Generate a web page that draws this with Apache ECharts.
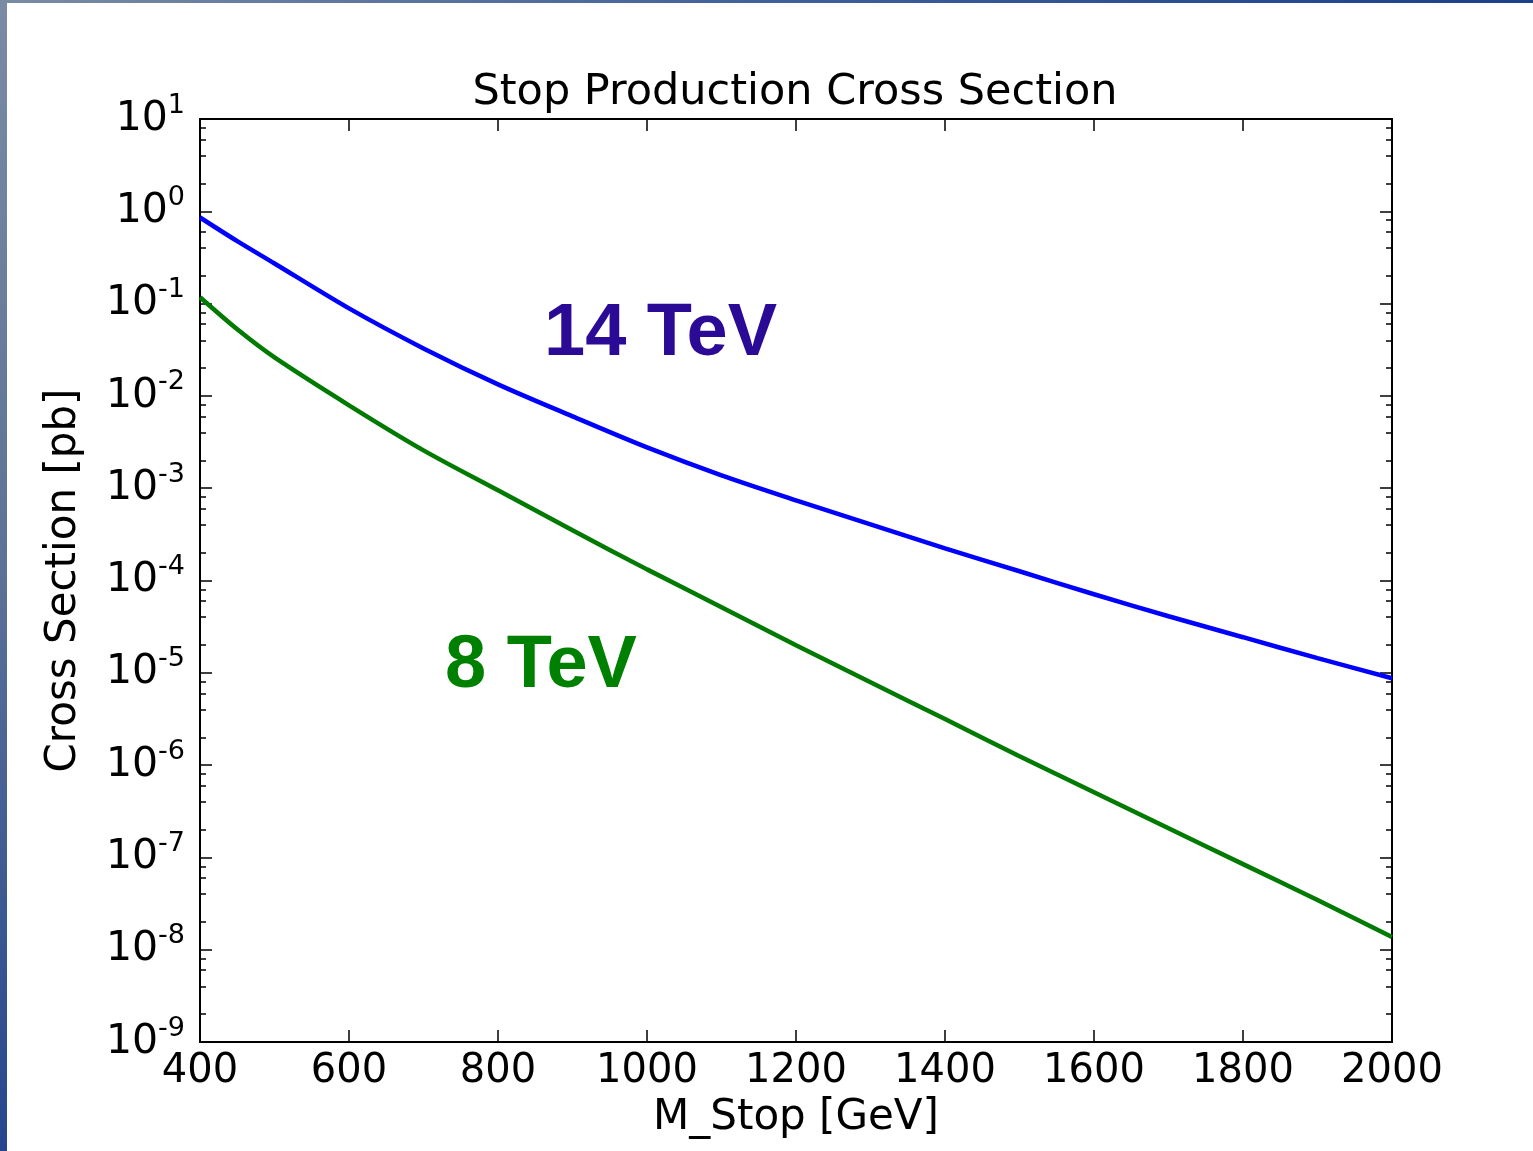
<!DOCTYPE html>
<html>
<head>
<meta charset="utf-8">
<script src="https://cdn.jsdelivr.net/npm/echarts@6/dist/echarts.min.js"></script>
<style>
  html, body { margin: 0; padding: 0; background: #ffffff; }
  #chart { position: absolute; left: 0; top: 0; width: 1533px; height: 1151px; }
  #leftbar { position: absolute; left: 0; top: 0; width: 7px; height: 1151px;
    background: linear-gradient(to bottom, #7a8ba3 0%, #5b7296 50%, #24468e 100%); z-index: 5; }
  #topbar { position: absolute; left: 0; top: 0; width: 1533px; height: 3px;
    background: linear-gradient(to right, #7a8ba3 0%, #40609a 50%, #1c3f8c 100%); z-index: 6; }
</style>
</head>
<body>
<div id="chart"></div>
<div id="leftbar"></div>
<div id="topbar"></div>
<script>
// ---- data ----
const MASS = [400, 450, 500, 600, 700, 800, 900, 1000, 1100, 1200, 1300, 1400, 1500, 1600, 1700, 1800, 1900, 2000];
const XS_14TEV = [0.857, 0.475, 0.272, 0.0887, 0.0327, 0.01334, 0.00601, 0.00277, 0.00138, 7.40e-4, 4.06e-4, 2.23e-4, 1.26e-4, 7.10e-5, 4.10e-5, 2.43e-5, 1.44e-5, 8.73e-6];
const XS_8TEV = [0.117, 0.0526, 0.0261, 0.00791, 0.00257, 9.48e-4, 3.50e-4, 1.32e-4, 5.13e-5, 1.99e-5, 7.91e-6, 3.15e-6, 1.25e-6, 5.09e-7, 2.07e-7, 8.45e-8, 3.45e-8, 1.37e-8];

const X_TICKS = [400, 600, 800, 1000, 1200, 1400, 1600, 1800, 2000];
const Y_TICK_EXPONENTS = [-9, -8, -7, -6, -5, -4, -3, -2, -1, 0, 1];
const Y_TICKS = [1e-9, 1e-8, 1e-7, 1e-6, 1e-5, 1e-4, 1e-3, 1e-2, 1e-1, 1e0, 1e1];
const MINOR_SUBS = [2, 4, 6, 8];

const TITLE = 'Stop Production Cross Section';
const X_NAME = 'M_Stop [GeV]';
const Y_NAME = 'Cross Section [pb]';
const LABEL_14 = '14 TeV';
const LABEL_8 = '8 TeV';

// minor tick positions (log axis: 2,4,6,8 x each decade)
const Y_MINOR_TICKS = [];
Y_TICKS.slice(0, -1).forEach(function (d) {
  MINOR_SUBS.forEach(function (s) { Y_MINOR_TICKS.push(+(s * d).toPrecision(3)); });
});

const FONT = 'DejaVu Sans';
const chart = echarts.init(document.getElementById('chart'), null, { renderer: 'canvas' });

function yAxisBase(position) {
  return {
    type: 'log', logBase: 10, min: Y_TICKS[0], max: Y_TICKS[Y_TICKS.length - 1],
    position: position, splitLine: { show: false }
  };
}

const option = {
  backgroundColor: '#ffffff',
  animation: false,
  title: {
    text: TITLE, left: 790, top: 66, textAlign: 'center',
    textStyle: { fontFamily: FONT, fontSize: 43, fontWeight: 'normal', color: '#000' }
  },
  grid: { left: 200, top: 119, width: 1192, height: 923, containLabel: false },
  xAxis: [
    {
      type: 'value', min: 400, max: 2000, position: 'bottom',
      name: X_NAME, nameLocation: 'middle', nameGap: 54,
      nameTextStyle: { fontFamily: FONT, fontSize: 42, color: '#000' },
      axisLine: { show: true, onZero: false, lineStyle: { color: '#000', width: 2 } },
      axisTick: { show: true, inside: true, length: 12, customValues: X_TICKS, lineStyle: { color: '#000', width: 1.5 } },
      axisLabel: {
        show: true, customValues: X_TICKS, margin: 10, fontFamily: FONT, fontSize: 40, color: '#000',
        formatter: function (v) { return String(v); }
      },
      splitLine: { show: false }
    },
    {
      type: 'value', min: 400, max: 2000, position: 'top',
      axisLine: { show: true, onZero: false, lineStyle: { color: '#000', width: 2 } },
      axisTick: { show: true, inside: true, length: 12, customValues: X_TICKS, lineStyle: { color: '#000', width: 1.5 } },
      axisLabel: { show: false },
      splitLine: { show: false }
    }
  ],
  yAxis: [
    Object.assign(yAxisBase('left'), {
      name: Y_NAME, nameLocation: 'middle', nameGap: 115, nameRotate: 90,
      nameTextStyle: { fontFamily: FONT, fontSize: 42, color: '#000' },
      axisLine: { show: true, onZero: false, lineStyle: { color: '#000', width: 2 } },
      axisTick: { show: true, inside: true, length: 12, customValues: Y_TICKS, lineStyle: { color: '#000', width: 1.5 } },
      axisLabel: {
        show: true, customValues: Y_TICKS, margin: 15,
        formatter: function (v) {
          const e = Math.round(Math.log10(v));
          return '{b|10}{s|' + e + '}';
        },
        rich: {
          b: { fontFamily: FONT, fontSize: 41, lineHeight: 54, color: '#000' },
          s: { fontFamily: FONT, fontSize: 27, lineHeight: 27, verticalAlign: 'top', color: '#000' }
        }
      }
    }),
    Object.assign(yAxisBase('right'), {
      axisLine: { show: true, onZero: false, lineStyle: { color: '#000', width: 2 } },
      axisTick: { show: true, inside: true, length: 12, customValues: Y_TICKS, lineStyle: { color: '#000', width: 1.5 } },
      axisLabel: { show: false }
    }),
    Object.assign(yAxisBase('left'), {
      axisLine: { show: false },
      axisTick: { show: true, inside: true, length: 6, customValues: Y_MINOR_TICKS, lineStyle: { color: '#000', width: 1.5 } },
      axisLabel: { show: false }
    }),
    Object.assign(yAxisBase('right'), {
      axisLine: { show: false },
      axisTick: { show: true, inside: true, length: 6, customValues: Y_MINOR_TICKS, lineStyle: { color: '#000', width: 1.5 } },
      axisLabel: { show: false }
    })
  ],
  series: [
    {
      name: LABEL_14, type: 'line', xAxisIndex: 0, yAxisIndex: 0,
      data: MASS.map(function (m, i) { return [m, XS_14TEV[i]]; }),
      smooth: 0.3, showSymbol: false, symbol: 'none',
      lineStyle: { color: '#0000ff', width: 4.5 }, z: 3
    },
    {
      name: LABEL_8, type: 'line', xAxisIndex: 0, yAxisIndex: 0,
      data: MASS.map(function (m, i) { return [m, XS_8TEV[i]]; }),
      smooth: 0.3, showSymbol: false, symbol: 'none',
      lineStyle: { color: '#007a00', width: 4.5 }, z: 3
    }
  ],
  graphic: [
    {
      type: 'text', x: 544, y: 335, z: 10,
      style: { text: LABEL_14, font: 'bold 74px "Liberation Sans", Arial, sans-serif', fill: '#2b0a96', textAlign: 'left', textVerticalAlign: 'middle' }
    },
    {
      type: 'text', x: 445, y: 667, z: 10,
      style: { text: LABEL_8, font: 'bold 74px "Liberation Sans", Arial, sans-serif', fill: '#008000', textAlign: 'left', textVerticalAlign: 'middle' }
    }
  ]
};
chart.setOption(option);
</script>
</body>
</html>
